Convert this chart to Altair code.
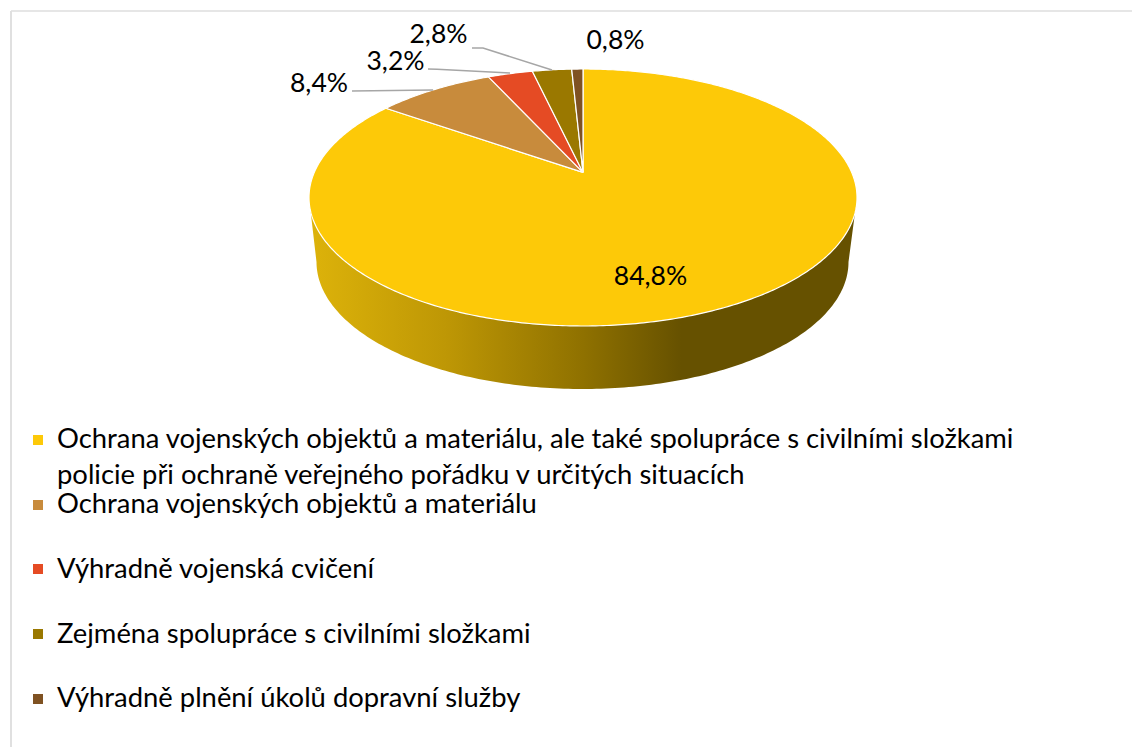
import math
import altair as alt
import pandas as pd

# ---- chart values ----
categories = [
    "Ochrana vojenských objektů a materiálu, ale také spolupráce s civilními složkami",
    "Ochrana vojenských objektů a materiálu",
    "Výhradně vojenská cvičení",
    "Zejména spolupráce s civilními složkami",
    "Výhradně plnění úkolů dopravní služby",
]
shares = [84.8, 8.4, 3.2, 2.8, 0.8]
share_labels = ["84,8%", "8,4%", "3,2%", "2,8%", "0,8%"]
continuation = "policie při ochraně veřejného pořádku v určitých situacích"
colors = ["#FDC908", "#C88B3C", "#E54B24", "#9A7800", "#7F5222"]

# ---- layout (page pixels) ----
W, H = 1124, 739
CX, CY, A, B = 583.0, 197.5, 274.0, 128.5   # top ellipse
APEX_V = 0.195                              # perspective shift of the pie centre
BX, BY, BA, BB = 582.5, 262.0, 266.0, 127.0 # bottom ellipse
FONT = "Lato"

x_scale = alt.Scale(domain=[8, 8 + W], range=[0, W])
y_scale = alt.Scale(domain=[8 + H, 8], range=[H, 0])
X = lambda f: alt.X(f, type="quantitative", scale=x_scale, axis=None)
Y = lambda f: alt.Y(f, type="quantitative", scale=y_scale, axis=None)


def project(theta):
    """Clockwise angle from the top of the tilted disc to page pixels."""
    u, v = math.sin(theta), math.cos(theta)
    d = 1 + v * APEX_V
    return (CX + A * u * math.sqrt(1 - APEX_V ** 2) / d,
            CY - B * (v + APEX_V) / d)


apex = (CX, CY - B * APEX_V)

rows = []
start = 0.0
for idx, (cat, s) in enumerate(zip(categories, shares)):
    end = start + s / sum(shares) * 2 * math.pi
    n = max(2, int((end - start) * 90))
    pts = [apex] + [project(start + (end - start) * k / n) for k in range(n + 1)] + [apex]
    for i, (px, py) in enumerate(pts):
        rows.append({"slice": idx, "i": i, "px": px, "py": py})
    start = end
slices = pd.DataFrame(rows)

side_pts = [(CX - A, CY)]
for k in range(181):
    t = math.pi * k / 180
    side_pts.append((BX - BA * math.cos(t), BY + BB * math.sin(t)))
side_pts.append((CX + A, CY))
side_pts.append((CX - A, CY))
side = pd.DataFrame([{"i": i, "px": p[0], "py": p[1]} for i, p in enumerate(side_pts)])

side_fill = alt.Gradient(
    gradient="linear", x1=0, x2=1, y1=0, y2=0,
    stops=[
        alt.GradientStop(offset=0.0, color="#DDB30A"),
        alt.GradientStop(offset=0.25, color="#BE9705"),
        alt.GradientStop(offset=0.5, color="#8F7100"),
        alt.GradientStop(offset=0.68, color="#665100"),
        alt.GradientStop(offset=1.0, color="#665100"),
    ],
)

side_layer = alt.Chart(side).mark_line(fill=side_fill, strokeWidth=0, stroke="#8F7100", strokeOpacity=0).encode(
    x=X("px"), y=Y("py"), order=alt.Order("i:Q")
)

top_layer = alt.Chart(slices).mark_line(stroke="white", strokeWidth=1.2, strokeJoin="round").encode(
    x=X("px"), y=Y("py"), order=alt.Order("i:Q"),
    fill=alt.Fill("slice:N", scale=alt.Scale(domain=list(range(5)), range=colors), legend=None),
    detail="slice:N",
)

# leader lines
leaders = pd.DataFrame(
    [dict(k=0, i=0, px=352, py=91), dict(k=0, i=1, px=433, py=90),
     dict(k=1, i=0, px=428, py=69), dict(k=1, i=1, px=437, py=69.3), dict(k=1, i=2, px=510, py=73),
     dict(k=2, i=0, px=472, py=48), dict(k=2, i=1, px=483, py=48), dict(k=2, i=2, px=552, py=70)]
)
leader_layer = alt.Chart(leaders).mark_line(color="#A6A6A6", strokeWidth=1.5).encode(
    x=X("px"), y=Y("py"), order=alt.Order("i:Q"), detail="k:N"
)

# data labels
label_pos = [(650.5, 285), (319, 91.5), (395.5, 69.5), (438.5, 43), (615.5, 49)]
labels = pd.DataFrame([{"t": t, "px": p[0], "py": p[1]} for t, p in zip(share_labels, label_pos)])
label_layer = alt.Chart(labels).mark_text(
    font=FONT, fontSize=26.5, color="black", align="center", baseline="alphabetic"
).encode(x=X("px"), y=Y("py"), text="t:N")

# legend
legend_y = [440, 505, 569, 634, 699]
text_y = [448, 513, 578, 643, 707]
marks = pd.DataFrame({"slice": list(range(5)), "px": [38] * 5, "py": legend_y})
marker_layer = alt.Chart(marks).mark_square(size=100, opacity=1, filled=True).encode(
    x=X("px"), y=Y("py"),
    color=alt.Color("slice:N", scale=alt.Scale(domain=list(range(5)), range=colors), legend=None),
)
legend_text = pd.DataFrame(
    {"t": categories + [continuation], "px": [57] * 6, "py": text_y + [484]}
)
legend_layer = alt.Chart(legend_text).mark_text(
    font=FONT, fontSize=27.4, color="black", align="left", baseline="alphabetic"
).encode(x=X("px"), y=Y("py"), text="t:N")

# frame
frame_h = alt.Chart(pd.DataFrame({"a": [11], "b": [8 + W], "c": [11]})).mark_rule(color="#E6E6E6", strokeWidth=2).encode(
    x=X("a"), x2="b:Q", y=Y("c"))
frame_v = alt.Chart(pd.DataFrame({"a": [11], "c": [11], "d": [8 + H]})).mark_rule(color="#E0E0E0", strokeWidth=2).encode(
    x=X("a"), y=Y("c"), y2="d:Q")

chart = alt.layer(
    frame_h, frame_v, side_layer, top_layer, leader_layer, label_layer, marker_layer, legend_layer
).resolve_scale(color="independent", fill="independent").properties(
    width=W, height=H, padding=0, autosize=alt.AutoSizeParams(type="none"), background="white"
).configure_view(stroke=None)

chart.save("out.html", embed_options={"renderer": "svg", "actions": False})
